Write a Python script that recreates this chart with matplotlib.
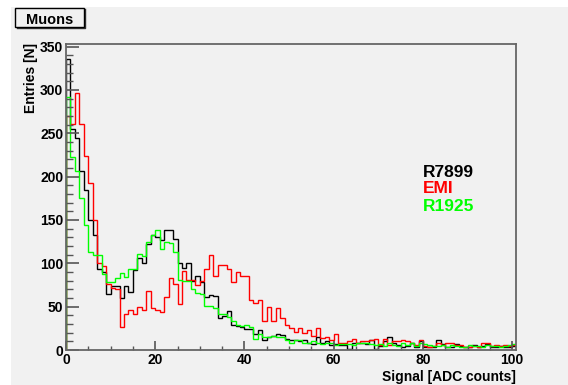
import numpy as np
import matplotlib
matplotlib.use("Agg")
import matplotlib.pyplot as plt
from matplotlib.patches import Rectangle
from matplotlib.lines import Line2D
from matplotlib.ticker import MultipleLocator

W, H = 568, 385
plt.rcParams['font.family'] = ['Liberation Sans', 'DejaVu Sans']
plt.rcParams['font.weight'] = 'bold'

# ---------------- data (counts per 1-ADC bin, bins 0..100) ----------------
bin_low = 0
bin_high = 101

r7899 = [336, 255, 244, 206, 184, 150, 133, 94, 90, 65,
         74, 74, 60, 74, 67, 92, 106, 100, 122, 133,
         130, 127, 139, 138, 128, 100, 95, 100, 80, 85,
         78, 61, 63, 62, 37, 39, 45, 29, 28, 26,
         24, 24, 19, 23, 12, 15, 16, 19, 17, 13,
         12, 12, 10, 12, 8, 7, 15, 8, 10, 6,
         7, 6, 6, 1, 8, 8, 8, 7, 12, 1,
         5, 10, 15, 8, 6, 4, 5, 8, 4, 10,
         3, 4, 3, 11, 7, 4, 3, 7, 5, 4,
         3, 6, 4, 5, 7, 4, 3, 5, 3, 3, 5]

emi = [270, 261, 296, 261, 224, 193, 150, 100, 97, 76,
       72, 70, 27, 42, 46, 42, 50, 46, 68, 48,
       46, 44, 61, 83, 76, 53, 91, 81, 81, 75,
       80, 93, 110, 85, 98, 98, 94, 78, 90, 85,
       85, 58, 54, 58, 34, 50, 34, 48, 37, 29,
       25, 21, 25, 20, 23, 16, 25, 14, 15, 11,
       18, 8, 8, 10, 13, 8, 10, 10, 12, 13,
       6, 13, 6, 10, 10, 12, 10, 8, 6, 11,
       5, 4, 5, 8, 6, 8, 8, 6, 6, 3,
       3, 5, 4, 8, 8, 5, 6, 5, 6, 5, 6]

r1925 = [292, 223, 206, 175, 144, 113, 110, 110, 88, 79,
         79, 83, 89, 84, 93, 94, 111, 108, 125, 133,
         139, 117, 125, 123, 113, 81, 80, 80, 70, 66,
         65, 51, 51, 48, 42, 42, 38, 33, 29, 28,
         29, 26, 13, 18, 15, 15, 16, 15, 15, 11,
         8, 11, 11, 8, 8, 10, 8, 7, 8, 8,
         6, 7, 7, 7, 6, 8, 8, 8, 7, 6,
         7, 5, 8, 6, 5, 8, 6, 8, 5, 8,
         7, 6, 5, 5, 6, 4, 6, 5, 4, 4,
         6, 5, 5, 4, 6, 5, 5, 4, 5, 6, 7]

series_names = ["R7899", "EMI", "R1925"]
series_colors = ["#000000", "#ff0000", "#00ff00"]
x_label = "Signal [ADC counts]"
y_label = "Entries [N]"
title = "Muons"

# ---------------- figure ----------------
fig = plt.figure(figsize=(W / 100, H / 100), dpi=100)
fig.patch.set_facecolor('white')
bg = '#f1f1f1'
fig.patches.append(Rectangle((11 / W, 0), 1 - 11 / W, 1 - 7 / H,
                             transform=fig.transFigure, facecolor=bg,
                             edgecolor='none', zorder=-10))

ax = fig.add_axes([66 / W, 1 - 350 / H, (516 - 66) / W, (350 - 44) / H])
ax.set_facecolor(bg)

edges = np.arange(bin_low, bin_high + 1)
for vals, col in zip([r7899, emi, r1925], series_colors):
    ax.stairs(vals, edges, color=col, lw=1.0)

ax.set_xlim(0, 100.85)
ax.set_ylim(0, 353)

frame_col = '#666666'
for s in ax.spines.values():
    s.set_color(frame_col)
    s.set_linewidth(1.3)

ax.xaxis.set_major_locator(MultipleLocator(20))
ax.xaxis.set_minor_locator(MultipleLocator(5))
ax.yaxis.set_major_locator(MultipleLocator(50))
ax.yaxis.set_minor_locator(MultipleLocator(10))
ax.tick_params(which='both', direction='in', color='#555555', labelsize=10,
               labelcolor='black')
ax.tick_params(axis='y', which='major', length=9.7, width=1.2, pad=2)
ax.tick_params(axis='y', which='minor', length=4.9, width=1.0)
ax.tick_params(axis='x', which='major', length=6.5, width=1.2, pad=2.5)
ax.tick_params(axis='x', which='minor', length=3.2, width=1.0)
for lab in ax.get_xticklabels() + ax.get_yticklabels():
    lab.set_fontweight('bold')

# axis titles
fig.text(31 / W, 1 - 43 / H, y_label, rotation=90, ha='center', va='top',
         fontsize=10, fontweight='bold')
fig.text(515.7 / W, 1 - 381 / H, x_label, ha='right', va='baseline',
         fontsize=10, fontweight='bold')

# legend-like labels
for name, col, yb in zip(series_names, series_colors, [176.7, 193.3, 211.0]):
    fig.text(423 / W, 1 - yb / H, name, color=col, ha='left', va='baseline',
             fontsize=12.5, fontweight='bold')

# title box
fig.patches.append(Rectangle((15 / W, 1 - 27 / H), (84 - 15) / W, (27 - 8) / H,
                             transform=fig.transFigure, facecolor=bg,
                             edgecolor='black', lw=1.0, zorder=5))
fig.lines.append(Line2D([16.5 / W, 84.8 / W, 84.8 / W],
                        [1 - 27.8 / H, 1 - 27.8 / H, 1 - 9 / H],
                        transform=fig.transFigure, color='#333333', lw=1.0, zorder=4))
fig.text(49.5 / W, 1 - 24 / H, title, ha='center', va='baseline',
         fontsize=10.5, fontweight='bold', zorder=6)

fig.savefig('out.png', dpi=100, facecolor=fig.get_facecolor())
